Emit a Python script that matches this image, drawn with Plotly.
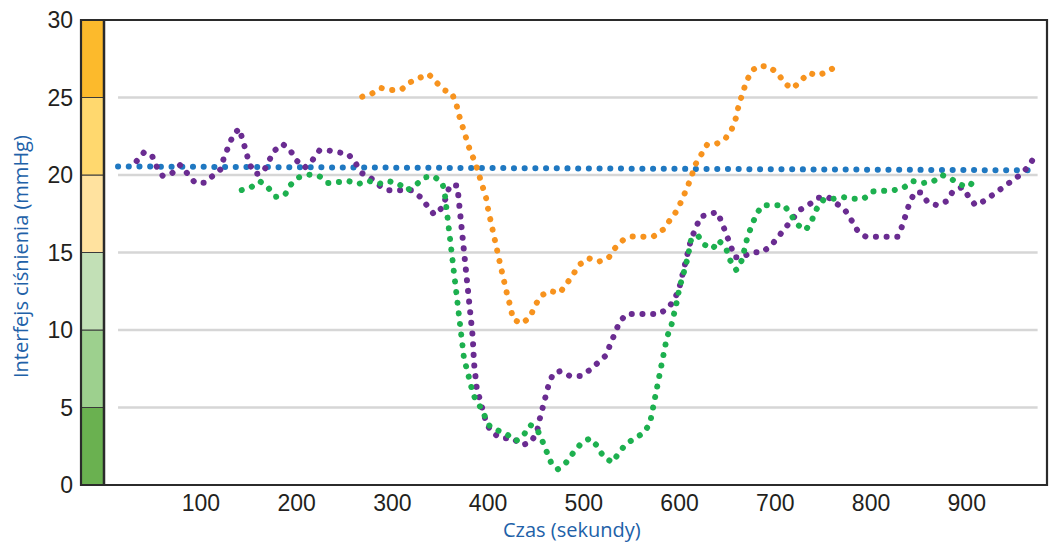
import plotly.graph_objects as go

# ---- data (time in seconds, pressure in mmHg) ----
blue_x = [13.5, 450, 970]
blue_y = [20.55, 20.43, 20.3]

purple_x = [33.0, 40.6, 48.7, 53.9, 60.2, 69.9, 78.5, 86.3, 93.9, 104.0, 113.0, 120.7, 124.2, 128.4, 133.9,
            140.2, 144.3, 147.5, 150.6, 157.3, 164.9, 170.5, 176.4, 185.5, 193.4, 200.1, 208.5, 216.8, 223.7,
            234.6, 245.3, 254.0, 261.7, 268.6, 277.7, 287.1, 296.8, 319.5, 328.9, 336.5, 343.8, 352.6, 356.8,
            360.2, 367.9, 369.3, 374.1, 376.9, 380.4, 384.0, 385.3, 386.7, 388.1, 391.6, 395.0, 398.6, 404.8,
            414.6, 425.7, 435.5, 444.1, 450.8, 453.5, 456.3, 459.2, 463.3, 468.1, 475.5, 485.6, 496.8, 506.2,
            515.1, 522.9, 527.7, 532.6, 537.5, 544.8, 578.2, 588.0, 595.0, 599.8, 612.0, 616.9, 621.7, 629.0,
            639.4, 644.3, 649.3, 653.0, 657.9, 665.2, 675.0, 686.1, 695.5, 703.2, 710.5, 717.2, 725.5, 735.2,
            744.3, 755.1, 764.2, 772.8, 779.4, 785.7, 794.4, 827.9, 832.7, 836.2, 840.4, 845.9, 852.5, 859.5,
            869.2, 878.6, 885.6, 894.7, 901.6, 908.9, 918.7, 928.1, 937.5, 946.9, 955.6, 963.7, 970.5]
purple_y = [20.90, 21.46, 21.29, 20.54, 19.94, 20.11, 20.65, 20.11, 19.50, 19.50, 19.94, 20.37, 21.14, 21.89, 22.60,
            22.99, 22.26, 21.46, 20.71, 20.06, 20.15, 20.86, 21.55, 22.00, 21.59, 20.92, 20.47, 20.97, 21.57,
            21.57, 21.44, 21.35, 20.75, 20.11, 19.79, 19.29, 19.01, 19.01, 18.60, 18.00, 17.44, 17.92, 18.65,
            19.35, 19.31, 18.50, 16.02, 14.41, 11.98, 9.53, 7.89, 7.10, 6.28, 5.48, 4.73, 3.92, 3.34,
            3.01, 3.01, 2.58, 2.73, 3.34, 4.15, 4.92, 5.70, 6.47, 7.21, 7.35, 7.03, 7.03, 7.42,
            7.89, 8.34, 9.08, 9.79, 10.54, 11.03, 11.03, 11.40, 12.00, 12.73, 15.85, 16.56, 17.31, 17.44,
            17.61, 16.92, 16.19, 15.42, 14.69, 14.69, 15.01, 15.01, 15.44, 16.02, 16.58, 17.21, 17.74, 18.08,
            18.52, 18.58, 18.13, 17.74, 17.10, 16.43, 16.02, 16.02, 16.73, 17.48, 18.24, 18.90, 18.86, 18.21,
            18.05, 18.30, 18.95, 19.21, 18.65, 18.05, 18.34, 18.77, 19.08, 19.55, 20.00, 20.50, 21.14]

green_x = [142.7, 152.4, 161.8, 170.5, 178.5, 187.6, 193.4, 202.5, 213.3, 223.4, 232.8, 243.3, 254.0, 264.5,
           274.9, 285.6, 295.8, 305.9, 315.3, 324.7, 333.8, 343.5, 352.4, 355.0, 358.2, 361.3, 364.7, 367.6,
           370.0, 372.8, 374.9, 378.3, 381.4, 384.6, 390.8, 395.8, 402.0, 411.1, 420.5, 429.2, 437.2, 444.1,
           450.8, 456.0, 460.8, 465.7, 472.7, 481.7, 489.0, 496.8, 506.2, 514.1, 520.4, 529.8, 536.4, 544.1,
           553.5, 562.6, 569.1, 571.5, 574.4, 577.2, 579.9, 582.4, 584.5, 586.9, 591.4, 594.9, 597.3, 599.8,
           603.9, 606.7, 609.6, 612.0, 619.0, 626.1, 634.7, 640.7, 648.5, 652.7, 659.3, 665.2, 668.1, 671.2,
           675.9, 680.6, 687.2, 697.9, 709.3, 716.2, 722.7, 731.9, 738.4, 743.3, 750.4, 760.1, 770.7, 781.5,
           792.3, 801.5, 812.3, 823.5, 834.1, 843.1, 854.0, 864.7, 874.1, 883.5, 893.2, 902.6, 909.6]
green_y = [19.03, 19.21, 19.59, 19.16, 18.60, 18.69, 19.35, 19.85, 20.02, 19.94, 19.48, 19.50, 19.61, 19.42,
           19.63, 19.42, 19.61, 19.46, 19.01, 19.37, 19.85, 19.92, 19.46, 18.68, 17.05, 15.44, 13.83, 12.19,
           10.56, 8.97, 8.15, 7.37, 6.60, 5.81, 5.16, 4.45, 3.76, 3.50, 3.23, 2.84, 3.23, 3.87,
           3.66, 2.95, 2.21, 1.46, 1.01, 1.46, 2.08, 2.65, 3.01, 2.52, 1.83, 1.46, 2.05, 2.66,
           3.01, 3.37, 3.98, 4.79, 5.57, 6.34, 7.16, 7.95, 8.75, 9.55, 10.28, 11.08, 11.87, 12.69,
           13.44, 14.21, 15.03, 15.81, 16.11, 15.50, 15.24, 15.79, 15.27, 14.52, 13.87, 14.52, 15.27, 16.06,
           16.81, 17.53, 18.05, 18.05, 18.05, 17.45, 16.81, 16.45, 17.11, 17.82, 18.40, 18.46, 18.58, 18.47,
           18.47, 18.94, 19.01, 19.01, 19.18, 19.61, 19.48, 19.57, 20.00, 19.76, 19.37, 19.25, 19.83]

orange_x = [268.6, 279.1, 288.5, 298.9, 309.8, 319.2, 328.9, 338.0, 345.9, 354.7, 362.0, 366.8, 370.0, 373.8,
            377.0, 381.4, 386.4, 390.5, 394.7, 397.8, 400.2, 403.1, 406.9, 409.3, 411.4, 414.2, 416.6, 420.1,
            423.6, 426.0, 435.4, 444.1, 449.0, 455.3, 464.4, 474.8, 482.4, 489.4, 496.0, 505.1, 515.6, 525.6,
            532.4, 540.9, 550.9, 561.8, 573.1, 582.7, 589.5, 597.0, 602.6, 607.8, 612.3, 615.8, 621.7, 628.7,
            638.8, 647.8, 654.5, 659.0, 661.8, 665.2, 669.7, 675.3, 683.0, 693.7, 703.1, 710.1, 718.2, 726.5,
            735.2, 744.9, 755.1, 764.5]
orange_y = [25.05, 25.27, 25.61, 25.48, 25.53, 26.00, 26.28, 26.50, 25.98, 25.46, 25.31, 24.58, 23.79, 23.01,
            22.24, 21.53, 20.84, 20.06, 19.34, 18.55, 17.74, 16.97, 16.21, 15.42, 14.60, 13.83, 13.01, 12.24,
            11.46, 10.69, 10.41, 10.86, 11.57, 12.21, 12.52, 12.39, 13.01, 13.61, 14.24, 14.63, 14.41, 14.63,
            15.27, 15.79, 16.03, 16.02, 16.05, 16.47, 17.10, 17.68, 18.40, 19.12, 19.85, 20.60, 21.29, 21.95,
            22.02, 22.34, 22.95, 23.70, 24.50, 25.27, 26.00, 26.73, 27.05, 26.99, 26.52, 25.89, 25.57, 26.08,
            26.58, 26.43, 26.69, 27.05]

x_ticks = [100, 200, 300, 400, 500, 600, 700, 800, 900]
y_ticks = [0, 5, 10, 15, 20, 25, 30]
grid_levels = [5, 10, 15, 20, 25]
grid_span = [13.5, 974]

# colour bands of the pressure scale
band_lo = [0, 5, 10, 15, 20, 25]
band_hi = [5, 10, 15, 20, 25, 30]
band_colors = ["#6AB150", "#9DD08E", "#C2E0B6", "#FFE29F", "#FFD86E", "#FCBA2C"]

y_title = "Interfejs ciśnienia (mmHg)"
x_title = "Czas (sekundy)"

# ---- figure ----
W, H = 1054, 543
ML, MR, MT, MB = 104, 7, 20, 58
PW, PH = W - ML - MR, H - MT - MB
Y_MAX = 30
X_RANGE = [-1.15, 983.8]
BAR_X0 = (81 - ML) / PW

DOT = "0.1px,10.6px"
series = [
    (blue_x, blue_y, "#1F78C1"),
    (purple_x, purple_y, "#6A2C91"),
    (green_x, green_y, "#1DB04F"),
    (orange_x, orange_y, "#F7931E"),
]

fig = go.Figure()
for xs, ys, col in series:
    fig.add_trace(go.Scatter(x=xs, y=ys, mode="lines",
                             line=dict(color=col, width=6, dash=DOT),
                             hoverinfo="skip", showlegend=False))

shapes = []
for g in grid_levels:
    shapes.append(dict(type="line", xref="x", yref="y", x0=grid_span[0], x1=grid_span[1],
                       y0=g, y1=g, line=dict(color="#D6D6D6", width=2.5), layer="below"))
for lo, hi, c in zip(band_lo, band_hi, band_colors):
    shapes.append(dict(type="rect", xref="paper", yref="paper", x0=BAR_X0, x1=0,
                       y0=lo / Y_MAX, y1=hi / Y_MAX, fillcolor=c,
                       line=dict(color="#3A3A3A", width=1.2), layer="above"))
shapes.append(dict(type="rect", xref="paper", yref="paper", x0=BAR_X0, x1=1, y0=0, y1=1,
                   line=dict(color="#2B2B2B", width=2.2), layer="above"))
shapes.append(dict(type="line", xref="paper", yref="paper", x0=0, x1=0, y0=0, y1=1,
                   line=dict(color="#2B2B2B", width=2.5), layer="above"))

tick_font = dict(family="Liberation Sans Narrow, Arial Narrow, Liberation Sans, Arial, sans-serif",
                 size=23, color="#231F20")
title_font = dict(family="Open Sans, Noto Sans, sans-serif", size=20, color="#2161A8")

fig.update_layout(
    width=W, height=H,
    margin=dict(l=ML, r=MR, t=MT, b=MB),
    paper_bgcolor="white", plot_bgcolor="white",
    shapes=shapes,
    xaxis=dict(range=X_RANGE, tickvals=x_ticks, ticktext=[str(v) for v in x_ticks],
               showgrid=False, zeroline=False, showline=False, ticks="",
               tickfont=tick_font, ticklabelstandoff=2),
    yaxis=dict(range=[0, Y_MAX], tickvals=y_ticks, ticktext=[str(v) for v in y_ticks],
               showgrid=False, zeroline=False, showline=False, ticks="",
               tickfont=tick_font, ticklabelstandoff=30),
    annotations=[
        dict(text=y_title, xref="paper", yref="paper", x=(20 - ML) / PW,
             y=(485 - 257) / PH, textangle=-90, showarrow=False, font=title_font,
             xanchor="center", yanchor="middle"),
        dict(text=x_title, xref="paper", yref="paper", x=(572 - ML) / PW,
             y=(485 - 529) / PH, showarrow=False, font=title_font,
             xanchor="center", yanchor="middle"),
    ],
)

post = ("var s=document.createElement('style');"
        "s.textContent='html,body{margin:0 !important;padding:0 !important;overflow:hidden;}"
        ".js-line{stroke-linecap:round !important;}';"
        "document.head.appendChild(s);")
fig.write_html("out.html", post_script=post, config={"displayModeBar": False})
